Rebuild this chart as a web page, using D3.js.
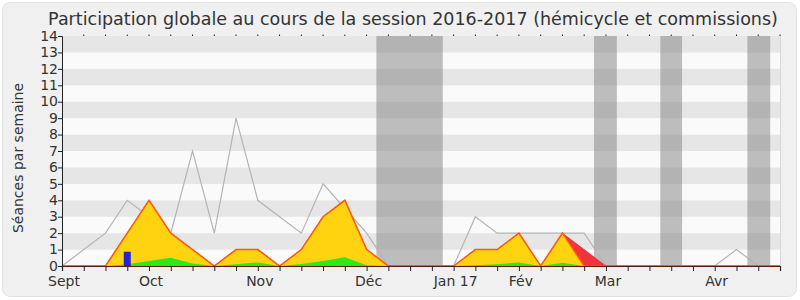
<!DOCTYPE html>
<html lang="fr">
<head>
<meta charset="UTF-8">
<script src="https://d3js.org/d3.v7.min.js"></script>
<style>
  body { margin: 0; background: #ffffff; }
  text { font-family: "DejaVu Sans", sans-serif; fill: #333; }
</style>
</head>
<body>
<script>
// semaines 0..33 (sept 2016 -> avril 2017)
var weeks = d3.range(0, 34);
var total   = [0,1,2,4,3,2,7,2,9,4,3,2,5,3.5,2,0,0,0,0,3,2,2,2,2,2,0,0,0,0,0,0,1,0,0];
var present = [0,0,0,2,4,2,1,0,1,1,0,1,3,4,1,0,0,0,0,1,1,2,0,2,0,0,0,0,0,0,0,0,0,0];
var extra   = [0,0,0,0,0,0,0,0,0,0,0,0,0,0,0,0,0,0,0,0,0,0,0,0,1,0,0,0,0,0,0,0,0,0];
var green   = [0,0,0,0.1,0.3,0.5,0.15,0,0.1,0.22,0,0.12,0.3,0.53,0.05,0,0,0,0,0.05,0.1,0.22,0,0.2,0,0,0,0,0,0,0,0,0,0];
var blueWeek = [3];
var blueVal  = [0.87];
var holidays = [[14.45,17.5],[24.45,25.5],[27.5,28.5],[31.5,32.55]];
var monthLabels = ["Sept","Oct","Nov","Déc","Jan 17","Fév","Mar","Avr"];
var monthWeeks  = [0,4,9,14,18,21,25,30];

var W = 800, H = 300;
var svg = d3.select("body").append("svg").attr("width", W).attr("height", H);

svg.append("rect").attr("x", 2.5).attr("y", 2.5).attr("width", 794).attr("height", 294)
   .attr("rx", 8).attr("fill", "#f0f0f0").attr("stroke", "#e2e2e2");

var x = d3.scaleLinear().domain([0, 33]).range([62, 780]);
var y = d3.scaleLinear().domain([0, 14]).range([266, 36]);

// bandes horizontales
svg.selectAll(".band").data(d3.range(0, 14)).enter().append("rect")
   .attr("x", x(0)).attr("width", x(33) - x(0))
   .attr("y", d => y(d + 1)).attr("height", d => y(d) - y(d + 1))
   .attr("fill", d => d % 2 ? "#e6e6e6" : "#fafafa");

// vacances
svg.selectAll(".hol").data(holidays).enter().append("rect")
   .attr("x", d => x(d[0])).attr("width", d => x(d[1]) - x(d[0]))
   .attr("y", y(14)).attr("height", y(0) - y(14))
   .attr("fill", "rgba(128,128,128,0.5)");

svg.append("line").attr("x1", x(33) + 0.5).attr("x2", x(33) + 0.5)
   .attr("y1", y(14)).attr("y2", y(0)).attr("stroke", "#d8d8d8");

// total (gris)
var line = d3.line().x((d, i) => x(weeks[i])).y(d => y(d));
svg.append("path").datum(total).attr("d", line)
   .attr("fill", "none").attr("stroke", "#b4b4b4").attr("stroke-width", 1.2);

// rouge empilé sur jaune
var stacked = present.map((d, i) => d + extra[i]);
svg.append("path").datum(stacked)
   .attr("d", d3.area().x((d, i) => x(weeks[i])).y0((d, i) => y(present[i])).y1(d => y(d)))
   .attr("fill", "#f2333b").attr("stroke", "#e0202a").attr("stroke-width", 0.6);

// jaune
svg.append("path").datum(present)
   .attr("d", d3.area().x((d, i) => x(weeks[i])).y0(y(0)).y1(d => y(d)))
   .attr("fill", "#ffd30f");
svg.append("path").datum(present).attr("d", line)
   .attr("fill", "none").attr("stroke", "#ff5a0a").attr("stroke-width", 1.5);

// vert
svg.append("path").datum(green)
   .attr("d", d3.area().x((d, i) => x(weeks[i])).y0(y(0)).y1(d => y(d)))
   .attr("fill", "#2ee81c");

// bleu
svg.selectAll(".blue").data(blueVal).enter().append("rect")
   .attr("x", (d, i) => x(blueWeek[i]) - 3.5).attr("width", 7)
   .attr("y", d => y(d)).attr("height", d => y(0) - y(d))
   .attr("fill", "#2323dd");

// axes
var yAxis = d3.axisLeft(y).tickValues(d3.range(0, 15)).tickSize(4).tickFormat(d3.format("d"));
var gy = svg.append("g").attr("transform", "translate(" + x(0) + ",0)").call(yAxis);
gy.select(".domain").attr("stroke", "#222");
gy.selectAll(".tick line").attr("stroke", "#222");
gy.selectAll("text").attr("font-size", 14).attr("fill", "#333").attr("x", -4).attr("dy", "0.3em")
  .style("font-family", "DejaVu Sans, sans-serif");

var xAxis = d3.axisBottom(x).tickValues(weeks).tickSize(5).tickFormat("");
var gx = svg.append("g").attr("transform", "translate(0," + y(0) + ")").call(xAxis);
gx.select(".domain").attr("stroke", "#5b1a0a").attr("stroke-width", 1.2);
gx.selectAll(".tick line").attr("stroke", "#222");

svg.selectAll(".mlab").data(monthLabels).enter().append("text")
   .attr("x", (d, i) => x(monthWeeks[i]) + 2).attr("y", 286)
   .attr("text-anchor", "middle").attr("font-size", 14).attr("fill", "#333")
   .text(d => d);

// petites marques en haut
svg.selectAll(".top").data(weeks.slice(1)).enter().append("line")
   .attr("x1", d => x(d)).attr("x2", d => x(d))
   .attr("y1", y(14) - 1.5).attr("y2", y(14)).attr("stroke", "#222");

svg.append("text").attr("x", 413).attr("y", 25).attr("text-anchor", "middle")
   .attr("font-size", 17.5).attr("fill", "#333")
   .text("Participation globale au cours de la session 2016-2017 (hémicycle et commissions)");

svg.append("text").attr("transform", "translate(23,158) rotate(-90)")
   .attr("text-anchor", "middle").attr("font-size", 14).attr("fill", "#333")
   .text("Séances par semaine");
</script>
</body>
</html>
